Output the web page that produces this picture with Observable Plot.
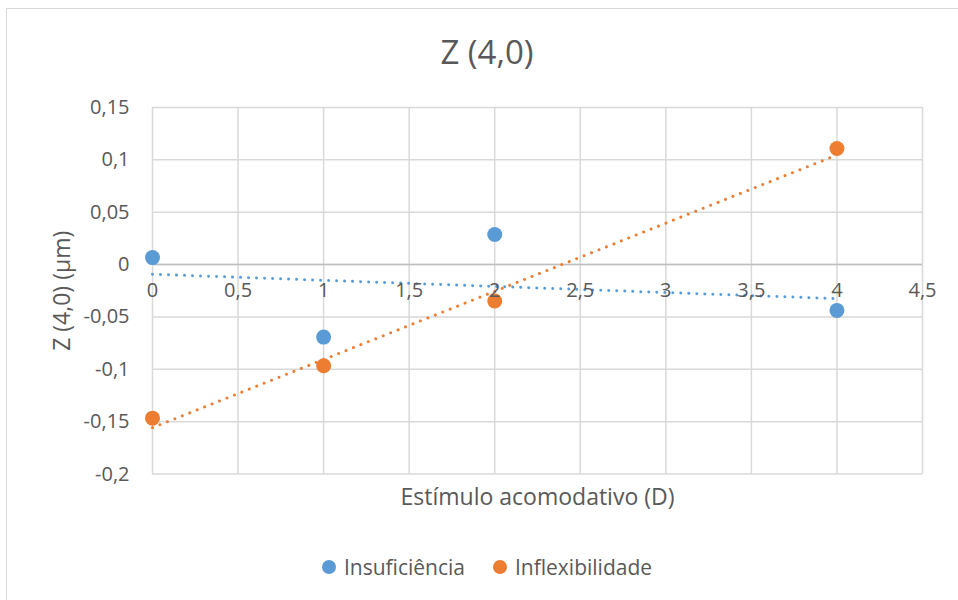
<!DOCTYPE html>
<html>
<head>
<meta charset="utf-8">
<script src="https://cdn.jsdelivr.net/npm/d3@7"></script>
<script src="https://cdn.jsdelivr.net/npm/@observablehq/plot@0.6"></script>
<style>
  html, body { margin: 0; padding: 0; background: #fff; overflow: hidden; }
  body { width: 958px; height: 600px; position: relative; font-family: "Open Sans", sans-serif; color: #595959; }
  #frame { position: absolute; left: 6px; top: 8px; width: 980px; height: 620px; border: 1px solid #d9d9d9; box-sizing: border-box; }
  #title { position: absolute; left: 6px; width: 962px; top: 30px; text-align: center; font-size: 33px; line-height: 44px; }
  #chart { position: absolute; left: 0; top: 80px; }
  #legend { position: absolute; left: 6px; width: 962px; top: 551px; text-align: center; font-size: 21px; line-height: 30px; }
  .item { display: inline-flex; align-items: center; margin: 0 14px; }
  .sw { width: 14px; height: 14px; border-radius: 50%; display: inline-block; margin-right: 8px; }
</style>
</head>
<body>
<div id="frame"></div>
<div id="title"></div>
<div id="chart"></div>
<div id="legend"></div>
<script>
// ---- data ----
const titleText = "Z (4,0)";
const xLabel = "Estímulo acomodativo (D)";
const yLabel = "Z (4,0) (µm)";
const seriesNames = ["Insuficiência", "Inflexibilidade"];
const seriesColors = ["#5b9bd5", "#ed7d31"];
const stimulus = [0, 1, 2, 4];
const insuficiencia = [0.0067, -0.0692, 0.0287, -0.0437];
const inflexibilidade = [-0.1466, -0.0965, -0.0348, 0.1108];
const xTicks = [0, 0.5, 1, 1.5, 2, 2.5, 3, 3.5, 4, 4.5];
const yTicks = [-0.2, -0.15, -0.1, -0.05, 0, 0.05, 0.1, 0.15];

const fmt = v => String(+v.toFixed(2)).replace(".", ",");

const rows = [];
stimulus.forEach((s, i) => {
  rows.push({series: seriesNames[0], x: s, y: insuficiencia[i]});
  rows.push({series: seriesNames[1], x: s, y: inflexibilidade[i]});
});

document.getElementById("title").textContent = titleText;

const grid = "#d9d9d9";
const plot = Plot.plot({
  width: 958,
  height: 440,
  marginLeft: 152,
  marginRight: 36,
  marginTop: 27,
  marginBottom: 46.4,
  style: {fontFamily: "Open Sans, sans-serif", color: "#595959", background: "transparent", overflow: "visible"},
  x: {domain: [0, 4.5], axis: null},
  y: {domain: [-0.2, 0.15], axis: null},
  color: {domain: seriesNames, range: seriesColors},
  marks: [
    Plot.ruleX(xTicks, {stroke: grid, strokeWidth: 1.5}),
    Plot.ruleY(yTicks, {stroke: grid, strokeWidth: 1.5}),
    Plot.ruleY([0], {stroke: "#bfbfbf", strokeWidth: 1.5}),
    Plot.dot(rows, {x: "x", y: "y", fill: "series", r: 7.5}),
    Plot.linearRegressionY(rows, {x: "x", y: "y", stroke: "series", ci: 0, strokeWidth: 3, strokeDasharray: "0.01 8", strokeLinecap: "round"}),
    Plot.text(xTicks, {x: d => d, y: () => 0, text: d => fmt(d), dy: 26, fontSize: 20, fill: "#595959", textAnchor: "middle", lineAnchor: "middle"}),
    Plot.text(yTicks, {y: d => d, frameAnchor: "left", text: d => fmt(d), dx: -23, fontSize: 20, fill: "#595959", textAnchor: "end", lineAnchor: "middle"}),
    Plot.text([xLabel], {frameAnchor: "bottom", dy: 23.4, fontSize: 23, fill: "#595959", textAnchor: "middle", lineAnchor: "middle", text: d => d}),
    Plot.text([yLabel], {frameAnchor: "left", dx: -90, rotate: -90, fontSize: 23, fill: "#595959", textAnchor: "middle", lineAnchor: "middle", text: d => d})
  ]
});
document.getElementById("chart").appendChild(plot);

const legend = document.getElementById("legend");
seriesNames.forEach((n, i) => {
  const it = document.createElement("span");
  it.className = "item";
  const sw = document.createElement("span");
  sw.className = "sw";
  sw.style.background = seriesColors[i];
  it.appendChild(sw);
  it.appendChild(document.createTextNode(n));
  legend.appendChild(it);
});
</script>
</body>
</html>
